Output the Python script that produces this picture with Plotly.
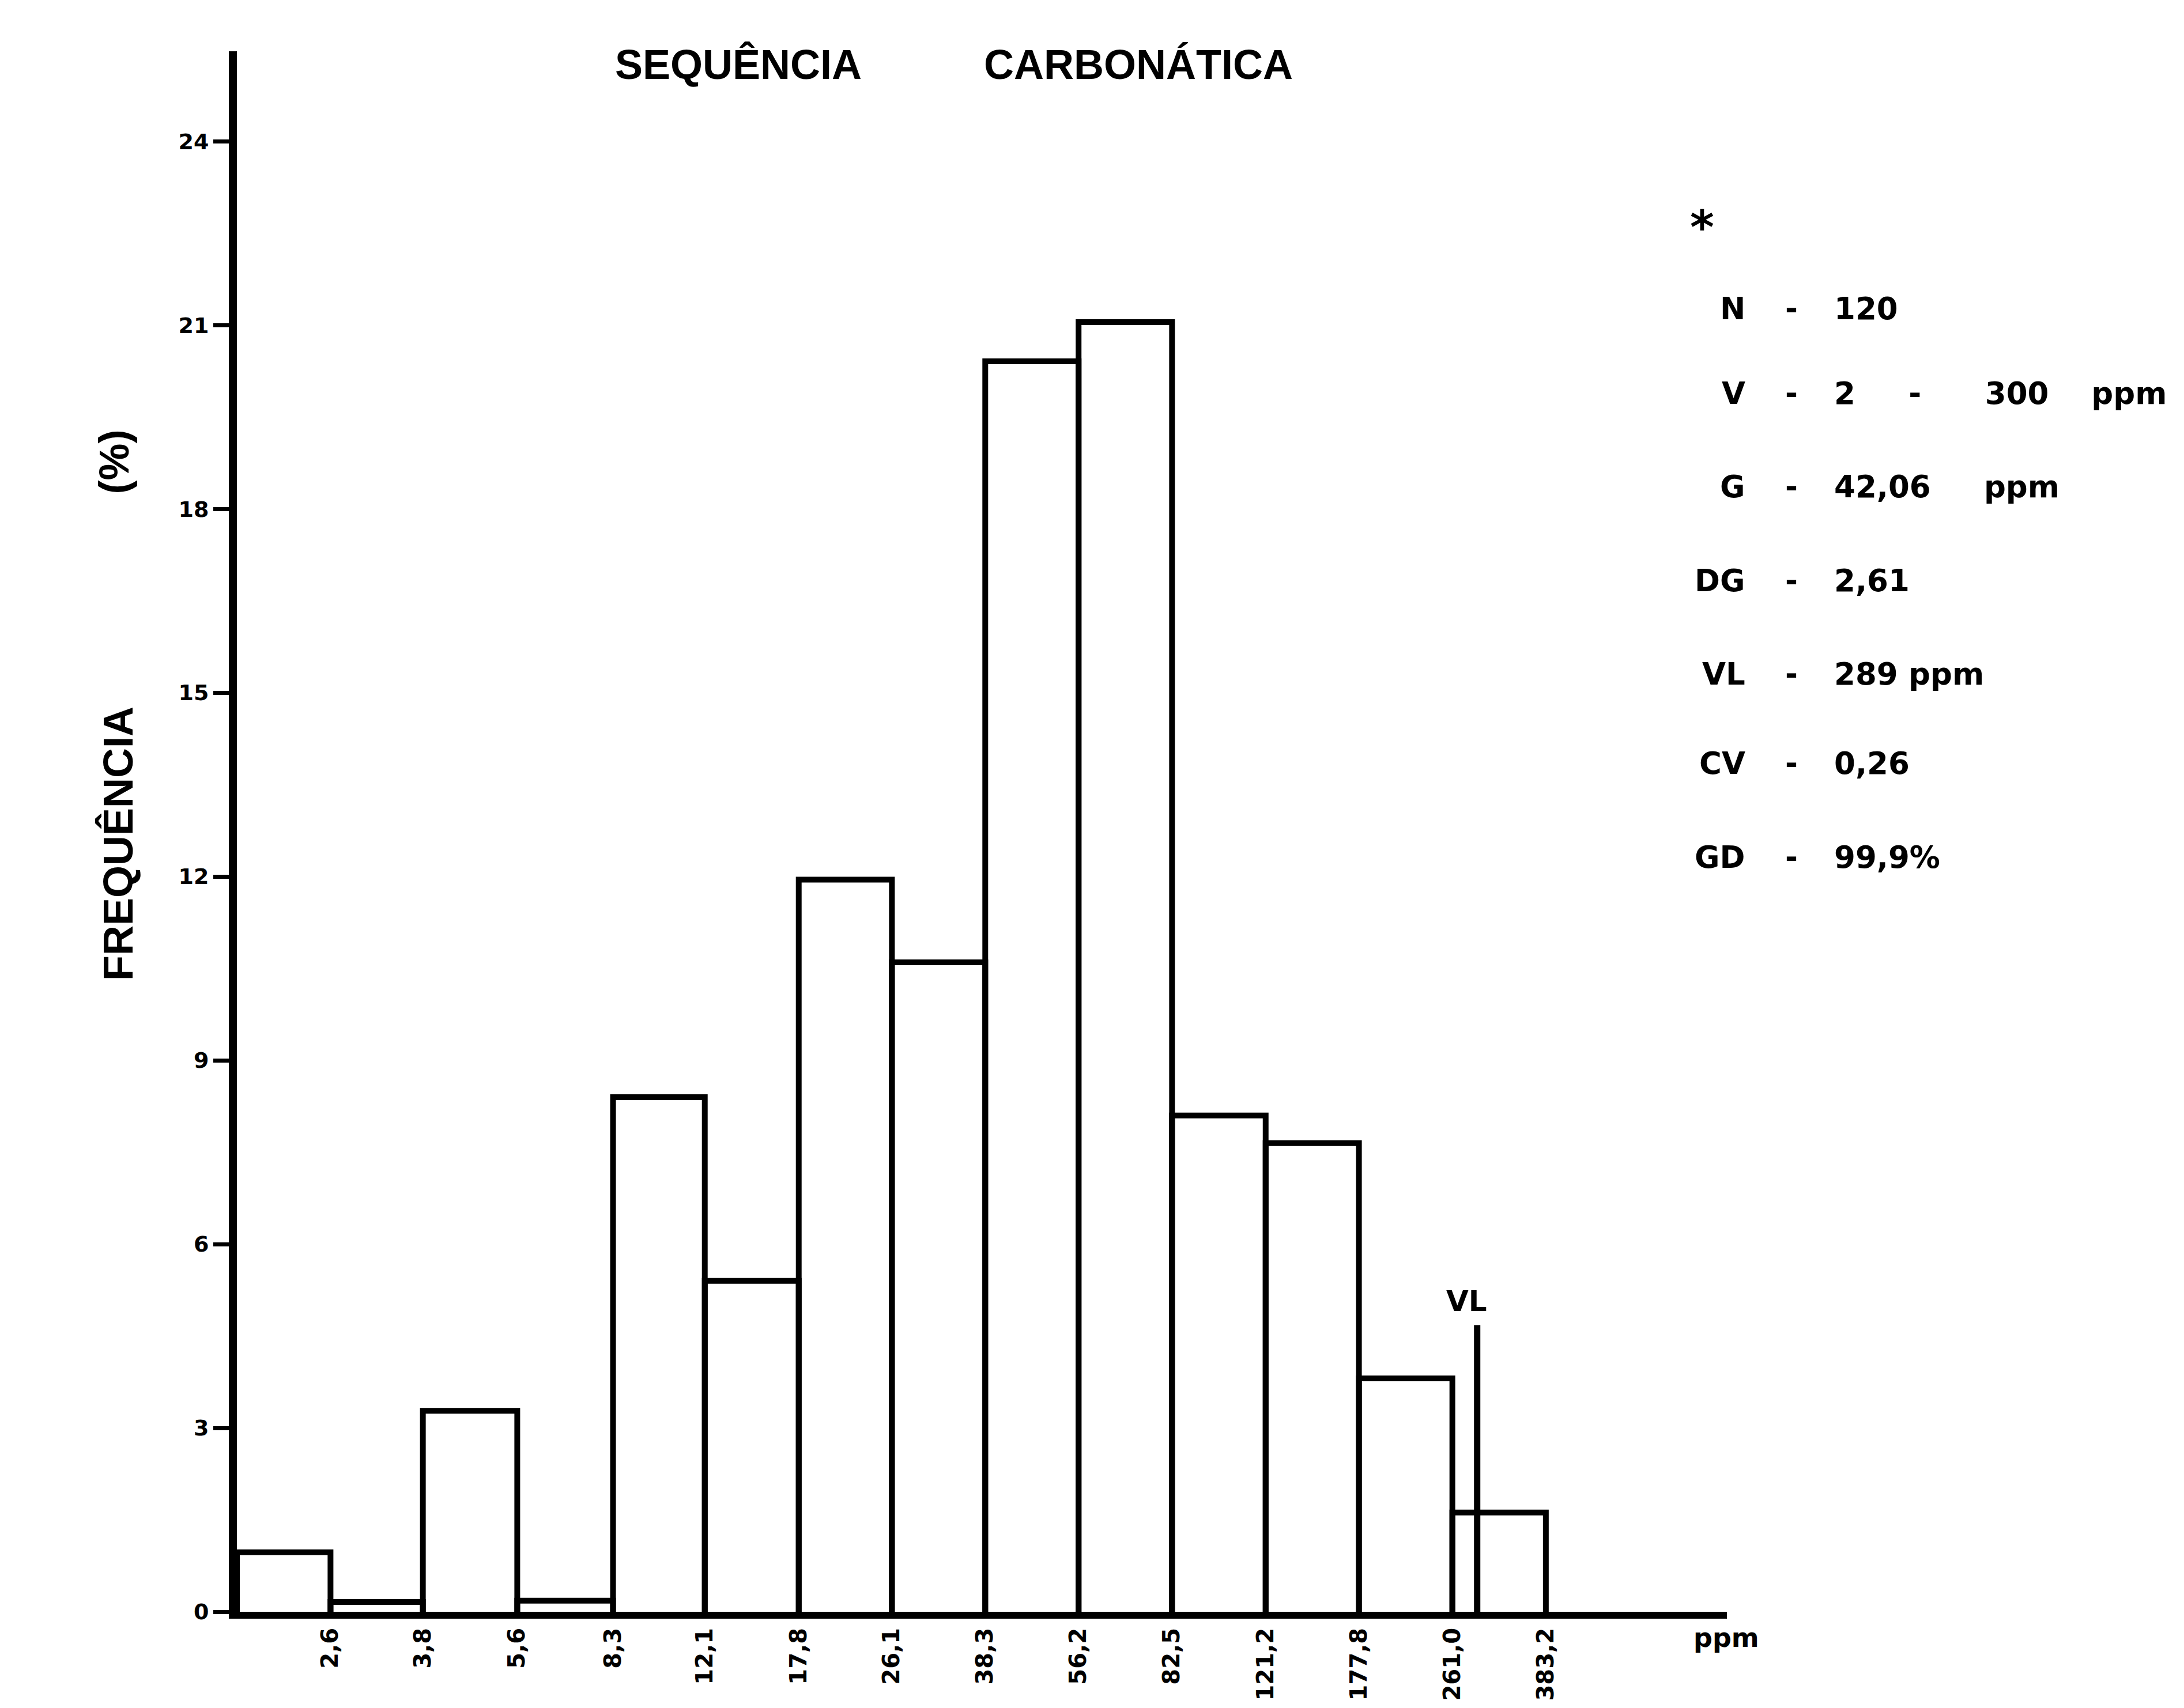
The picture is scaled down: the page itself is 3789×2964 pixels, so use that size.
import math
import plotly.graph_objects as go

# Class limits (ppm) on a logarithmic scale; the first limit is the lower end of the axis
bin_edges = [1.77, 2.6, 3.8, 5.6, 8.3, 12.1, 17.8, 26.1, 38.3, 56.2, 82.5, 121.2, 177.8, 261.0, 383.2]
edge_labels = ["2,6", "3,8", "5,6", "8,3", "12,1", "17,8", "26,1", "38,3",
               "56,2", "82,5", "121,2", "177,8", "261,0", "383,2"]
# Frequency (%) of samples in each class
frequencies = [0.97, 0.16, 3.28, 0.18, 8.40, 5.40, 11.95, 10.60, 20.41, 21.05, 8.10, 7.65, 3.81, 1.62]

y_ticks = [0, 3, 6, 9, 12, 15, 18, 21, 24]

# Threshold value (VL) in ppm and height of its marker
vl_value = 289
vl_height = 4.68

# Summary statistics
stat_labels = ["N", "V", "G", "DG", "VL", "CV", "GD"]
NB = "\u00a0"
stat_values = ["120",
               "2" + NB * 5 + "-" + NB * 6 + "300" + NB * 4 + "ppm",
               "42,06" + NB * 5 + "ppm",
               "2,61",
               "289" + NB + "ppm",
               "0,26",
               "99,9%"]

W, H = 3789, 2964
L, R, T, B = 411, 2996, 89, 2803


def xp(px):
    return (px - L) / (R - L)


def yp(py):
    return (B - py) / (B - T)


# Outline of the histogram columns
bx, by = [], []
for i, f in enumerate(frequencies):
    x0, x1 = bin_edges[i], bin_edges[i + 1]
    bx += [x0, x0, x1, x1, None]
    by += [0, f, f, 0, None]

fig = go.Figure()
fig.add_trace(go.Scatter(x=bx, y=by, mode="lines",
                         line=dict(color="black", width=10),
                         hoverinfo="skip", showlegend=False))
fig.add_trace(go.Scatter(x=[vl_value, vl_value], y=[0, vl_height], mode="lines",
                         line=dict(color="black", width=11),
                         hoverinfo="skip", showlegend=False))

stat_font = dict(family="DejaVu Sans", size=53, color="black", weight="bold")
title_font = dict(family="Liberation Sans", size=72, color="black", weight="bold")

ann = []
# Title
ann.append(dict(text="SEQUÊNCIA", x=xp(1281), y=yp(112), font=title_font))
ann.append(dict(text="CARBONÁTICA", x=xp(1975), y=yp(112), font=title_font))
# Y-axis title
ann.append(dict(text="FREQUÊNCIA", x=xp(205), y=yp(1467), textangle=-90, font=title_font))
ann.append(dict(text="(%)", x=xp(198), y=yp(803), textangle=-90, font=title_font))
# Unit of the x axis
ann.append(dict(text="ppm", x=xp(2936), y=yp(2848), xanchor="left",
                font=dict(family="DejaVu Sans", size=46, color="black", weight="bold")))
# VL marker label
ann.append(dict(text="VL", x=math.log10(vl_value), y=vl_height, xref="x", yref="y",
                yanchor="bottom", xshift=-18, yshift=10,
                font=dict(family="DejaVu Sans", size=50, color="black", weight="bold")))
# Statistics block
ann.append(dict(text="*", x=xp(2953), y=yp(395), font=dict(family="DejaVu Sans", size=80,
                                                           color="black", weight="bold")))
row_y = [536, 684, 846, 1010, 1172, 1327, 1491]
for lab, val, py in zip(stat_labels, stat_values, row_y):
    ann.append(dict(text=lab, x=xp(3030), y=yp(py), xanchor="right", font=stat_font))
    ann.append(dict(text="-", x=xp(3108), y=yp(py), font=stat_font))
    ann.append(dict(text=val, x=xp(3180), y=yp(py), xanchor="left", font=stat_font))

for a in ann:
    a.setdefault("xref", "paper")
    a.setdefault("yref", "paper")
    a.setdefault("xanchor", "center")
    a.setdefault("yanchor", "middle")
    a["showarrow"] = False

fig.update_layout(
    width=W, height=H,
    margin=dict(l=L, r=W - R, t=T, b=H - B),
    paper_bgcolor="white", plot_bgcolor="white",
    annotations=ann,
    xaxis=dict(type="log",
               range=[math.log10(bin_edges[0]), 2.9065],
               tickmode="array", tickvals=bin_edges[1:], ticktext=edge_labels,
               tickangle=-90, ticks="", showgrid=False, zeroline=False,
               showline=True, linecolor="black", linewidth=12,
               tickfont=dict(family="DejaVu Sans", size=40, color="black", weight="bold")),
    yaxis=dict(range=[0, 25.47], tickmode="array", tickvals=y_ticks,
               ticktext=[str(v) for v in y_ticks],
               ticks="outside", ticklen=27, tickwidth=7, tickcolor="black",
               showgrid=False, zeroline=False,
               showline=True, linecolor="black", linewidth=14,
               tickfont=dict(family="DejaVu Sans", size=38, color="black", weight="bold")),
)

fig.write_html("out.html")
